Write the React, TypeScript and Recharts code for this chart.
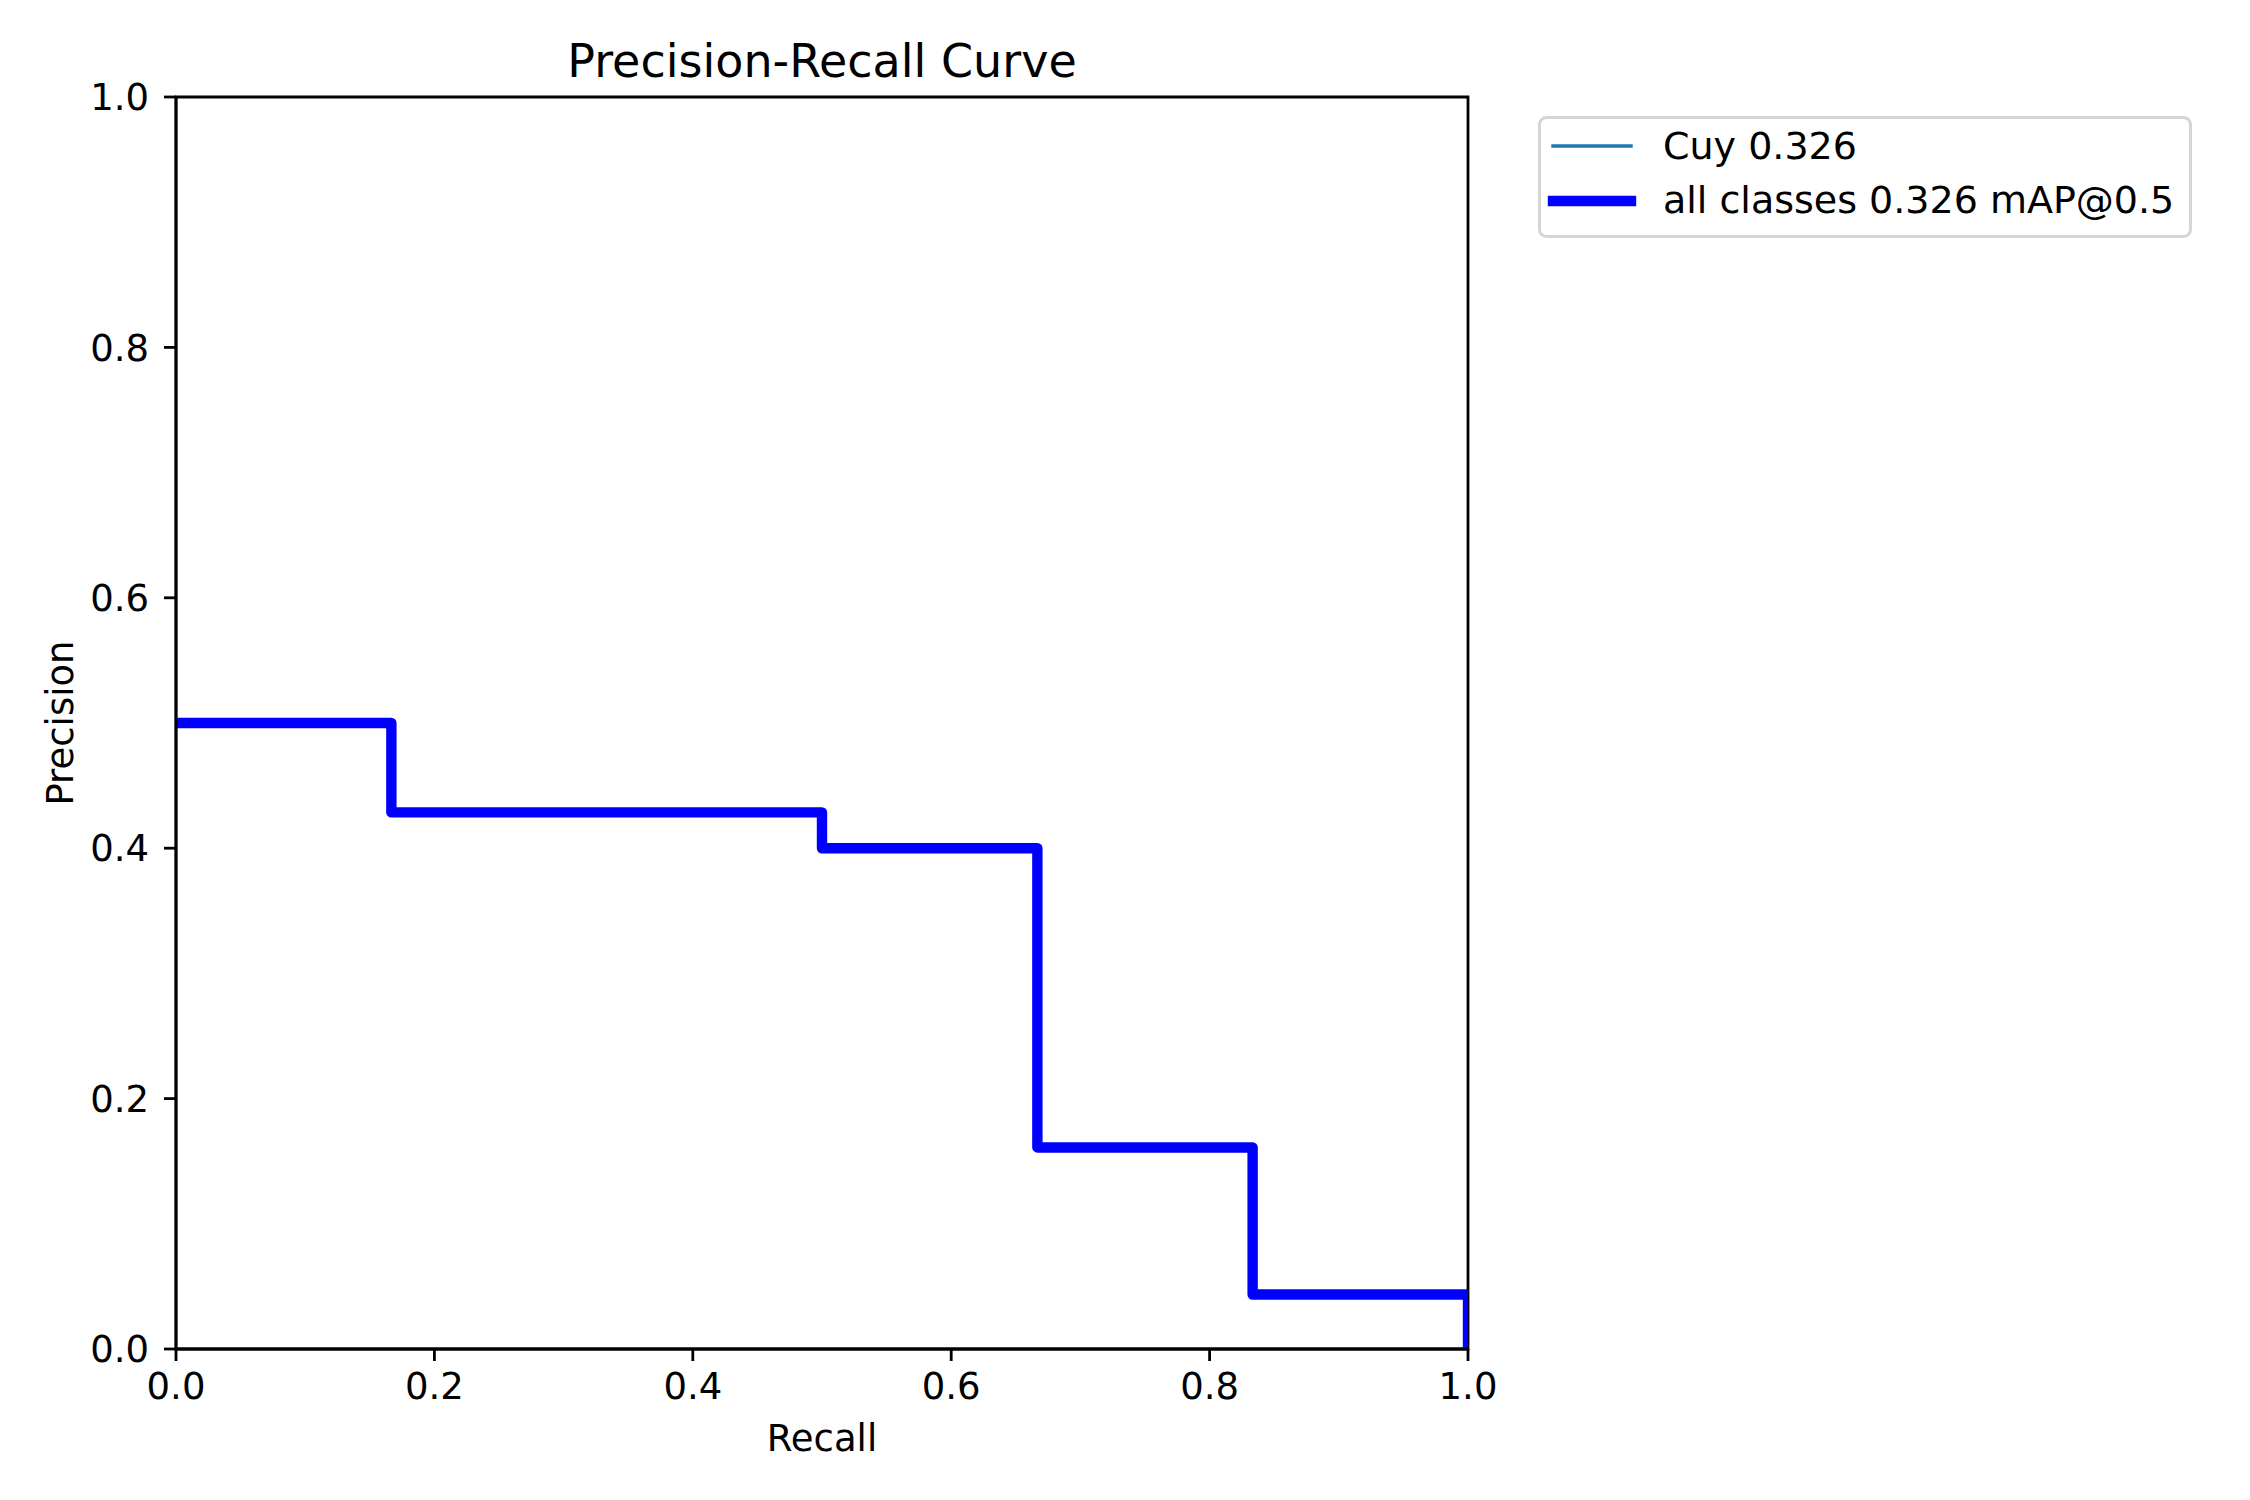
import { LineChart, Line, XAxis, YAxis, Legend, Label, ReferenceArea } from 'recharts';

// PR curve of the single class (step envelope)
const recall = [0, 0.1667, 0.5, 0.6667, 0.8333, 1.0];
const cuyPrecision = [0.5, 0.4286, 0.4, 0.161, 0.0435, 0];
const allPrecision = [0.5, 0.4286, 0.4, 0.161, 0.0435, 0];

const ticks = [0, 0.2, 0.4, 0.6, 0.8, 1.0];

const seriesNames = ['Cuy 0.326', 'all classes 0.326 mAP@0.5'];
const seriesColors = ['#1f77b4', '#0000ff'];
const seriesWidths = [3.5, 10.4];

const data = recall.map((r, i) => ({ recall: r, cuy: cuyPrecision[i], all: allPrecision[i] }));

const FONT = '"DejaVu Sans", sans-serif';
const tickStyle = { fontFamily: FONT, fontSize: 37, fill: '#000' };
const axisStroke = { stroke: '#000', strokeWidth: 2.8 };

const LegendBox = (props: any) => {
  const items = props.payload || [];
  return (
    <svg width={656} height={124} style={{ display: 'block' }}>
      <rect x={1.5} y={1.5} width={651} height={119} rx={7} fill="#fff" fillOpacity={0.8} stroke="#d5d5d5" strokeWidth={3} />
      {items.map((item: any, i: number) => (
        <g key={item.value}>
          <line
            x1={15}
            x2={93}
            y1={30 + i * 55}
            y2={30 + i * 55}
            stroke={item.color}
            strokeWidth={seriesWidths[i]}
            strokeLinecap="square"
          />
          <text x={125} y={43 + i * 54} fontFamily={FONT} fontSize={38} fill="#000">
            {item.value}
          </text>
        </g>
      ))}
    </svg>
  );
};

export default function App() {
  return (
    <div style={{ position: 'absolute', left: 0, top: 0, background: '#fff' }}>
      <LineChart width={2250} height={1500} data={data} margin={{ top: 97, right: 782, bottom: 0, left: 0 }}>
        <XAxis
          dataKey="recall"
          type="number"
          domain={[0, 1]}
          ticks={ticks}
          allowDataOverflow
          tickFormatter={(v: number) => v.toFixed(1)}
          tick={tickStyle}
          tickSize={12}
          tickMargin={12}
          tickLine={axisStroke}
          axisLine={axisStroke}
          height={151}
        >
          <Label value="Recall" position="insideTop" offset={76} style={tickStyle} />
        </XAxis>
        <YAxis
          type="number"
          domain={[0, 1]}
          ticks={ticks}
          allowDataOverflow
          tickFormatter={(v: number) => v.toFixed(1)}
          tick={tickStyle}
          tickSize={12}
          tickMargin={15}
          tickLine={axisStroke}
          axisLine={axisStroke}
          width={176}
        >
          <Label
            content={(p: any) => {
              const vb = p.viewBox;
              const cx = vb.x + 73;
              const cy = vb.y + vb.height / 2;
              return (
                <text x={cx} y={cy} transform={`rotate(-90, ${cx}, ${cy})`} textAnchor="middle" fontFamily={FONT} fontSize={37} fill="#000">
                  Precision
                </text>
              );
            }}
          />
        </YAxis>
        <Line
          type="stepAfter"
          dataKey="cuy"
          name={seriesNames[0]}
          stroke={seriesColors[0]}
          strokeWidth={seriesWidths[0]}
          strokeLinejoin="round"
          dot={false}
          activeDot={false}
          isAnimationActive={false}
        />
        <Line
          type="stepAfter"
          dataKey="all"
          name={seriesNames[1]}
          stroke={seriesColors[1]}
          strokeWidth={seriesWidths[1]}
          strokeLinejoin="round"
          dot={false}
          activeDot={false}
          isAnimationActive={false}
        />
        {/* frame (top/right spines) + title */}
        <ReferenceArea x1={0} x2={1} y1={0} y2={1} ifOverflow="visible" fill="none" fillOpacity={0} stroke="#000" strokeWidth={2.8}>
          <Label value="Precision-Recall Curve" position="top" offset={20} style={{ fontFamily: FONT, fontSize: 46, fill: '#000' }} />
        </ReferenceArea>
        <Legend
          layout="vertical"
          align="center"
          verticalAlign="middle"
          content={LegendBox}
          wrapperStyle={{ left: 1538, top: 116, width: 656, height: 124 }}
        />
      </LineChart>
    </div>
  );
}
